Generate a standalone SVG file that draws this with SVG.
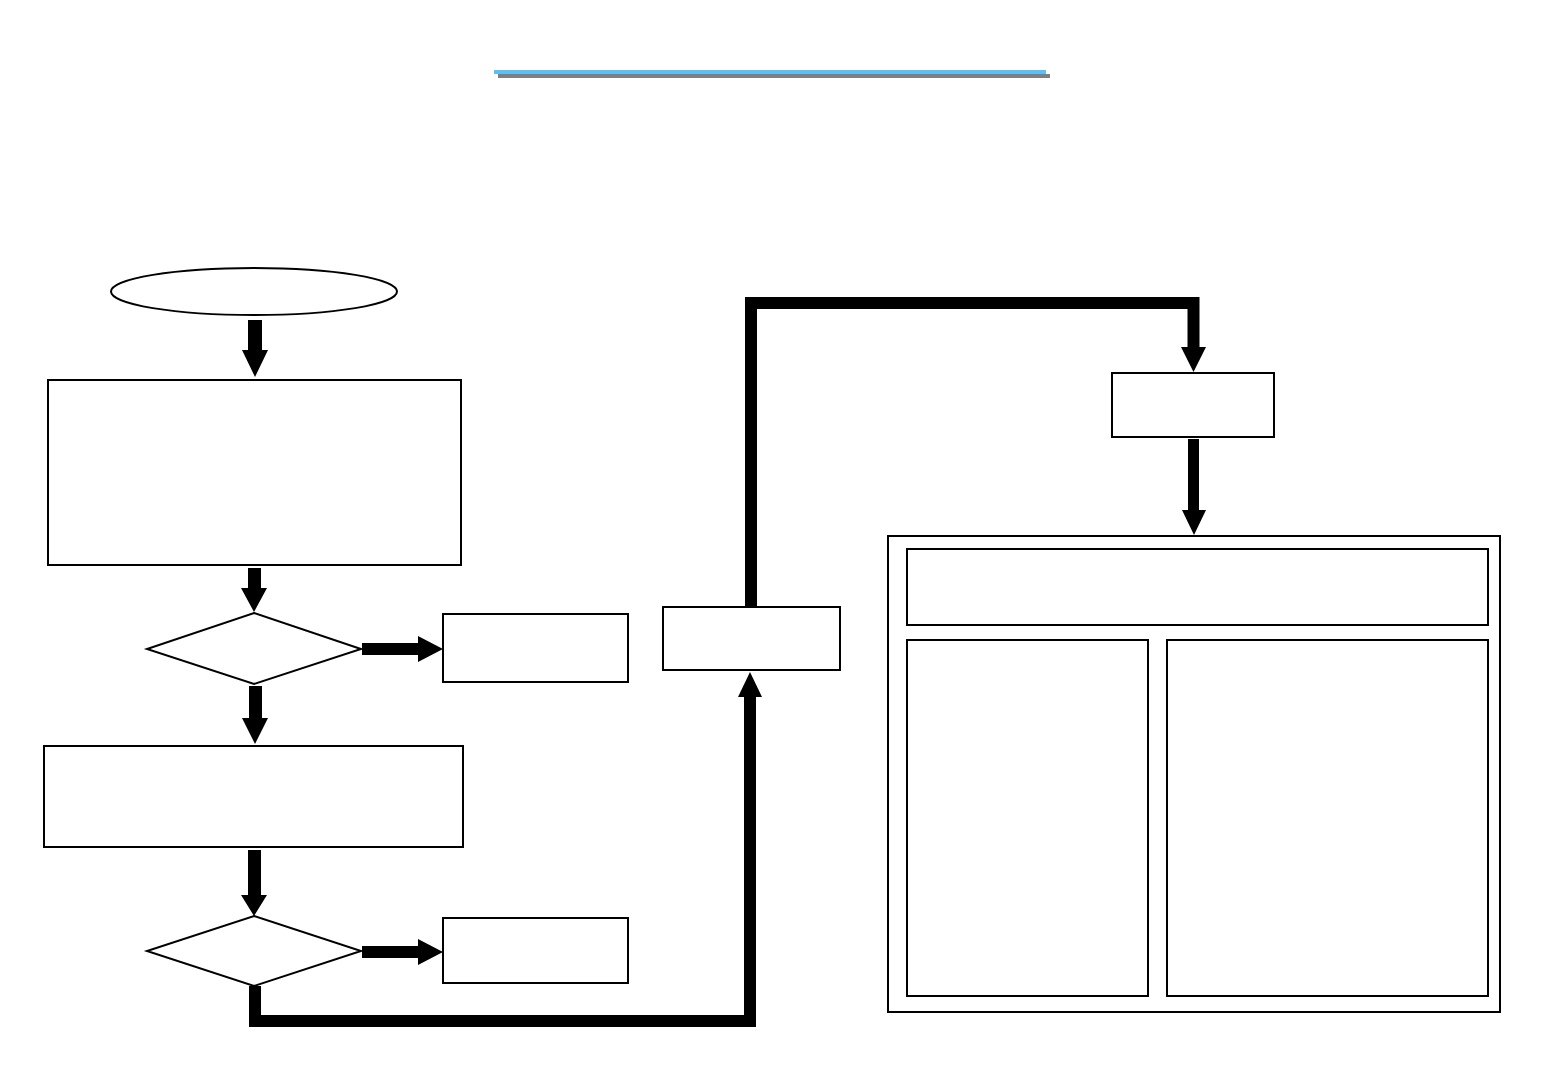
<svg xmlns="http://www.w3.org/2000/svg" width="1560" height="1080" viewBox="0 0 1560 1080">
<style>
.node{fill:#fff;stroke:#000;stroke-width:2}
.thick{fill:none;stroke:#000;stroke-width:12;stroke-linejoin:miter}
.arr{fill:#000;stroke:none}
</style>
<rect width="1560" height="1080" fill="#fff"/>
<g id="title">
<rect x="498" y="74" width="552" height="4" fill="#7f7f7f"/>
<rect x="494" y="70" width="552" height="4" fill="#5bc0f5"/>
</g>
<g id="start"><ellipse class="node" cx="254" cy="291.5" rx="143" ry="23.5"/></g>
<g id="box1"><rect class="node" x="48" y="380" width="413" height="185"/></g>
<g id="decision1"><polygon class="node" points="254,613 361,649 254,684 147,649"/></g>
<g id="side1"><rect class="node" x="443" y="614" width="185" height="68"/></g>
<g id="box2"><rect class="node" x="44" y="746" width="419" height="101"/></g>
<g id="decision2"><polygon class="node" points="254,916 361,951 254,986 147,951"/></g>
<g id="side2"><rect class="node" x="443" y="918" width="185" height="65"/></g>
<g id="box3"><rect class="node" x="663" y="607" width="177" height="63"/></g>
<g id="box4"><rect class="node" x="1112" y="373" width="162" height="64"/></g>
<g id="container">
<rect class="node" x="888" y="536" width="612" height="476" stroke-width="2.5"/>
<rect class="node" x="907" y="549" width="581" height="76"/>
<rect class="node" x="907" y="640" width="241" height="356"/>
<rect class="node" x="1167" y="640" width="321" height="356"/>
</g>
<g id="connectors">
<polygon class="arr" points="248,320 262,320 262,350 268,350 255,377 242,350 248,350"/>
<polygon class="arr" points="248,568 261,568 261,588 267,588 254,612 241,588 248,588"/>
<polygon class="arr" points="362,643 418,643 418,636 443,649 418,662 418,655 362,655"/>
<polygon class="arr" points="249,686 262,686 262,718 268,718 255,744 242,718 249,718"/>
<polygon class="arr" points="248,850 261,850 261,895 267,895 254,916 241,895 248,895"/>
<polygon class="arr" points="362,946 418,946 418,939 443,952 418,965 418,958 362,958"/>
<polyline class="thick" points="255,986 255,1021 750,1021 750,697"/>
<polygon class="arr" points="738,697 762,697 750,672"/>
<polyline class="thick" points="751,607 751,303 1193.5,303 1193.5,348"/>
<polygon class="arr" points="1181,347 1206,347 1193.5,372"/>
<polygon class="arr" points="1188,439 1199,439 1199,510 1206,510 1194,535 1182,510 1188,510"/>
</g>
</svg>
